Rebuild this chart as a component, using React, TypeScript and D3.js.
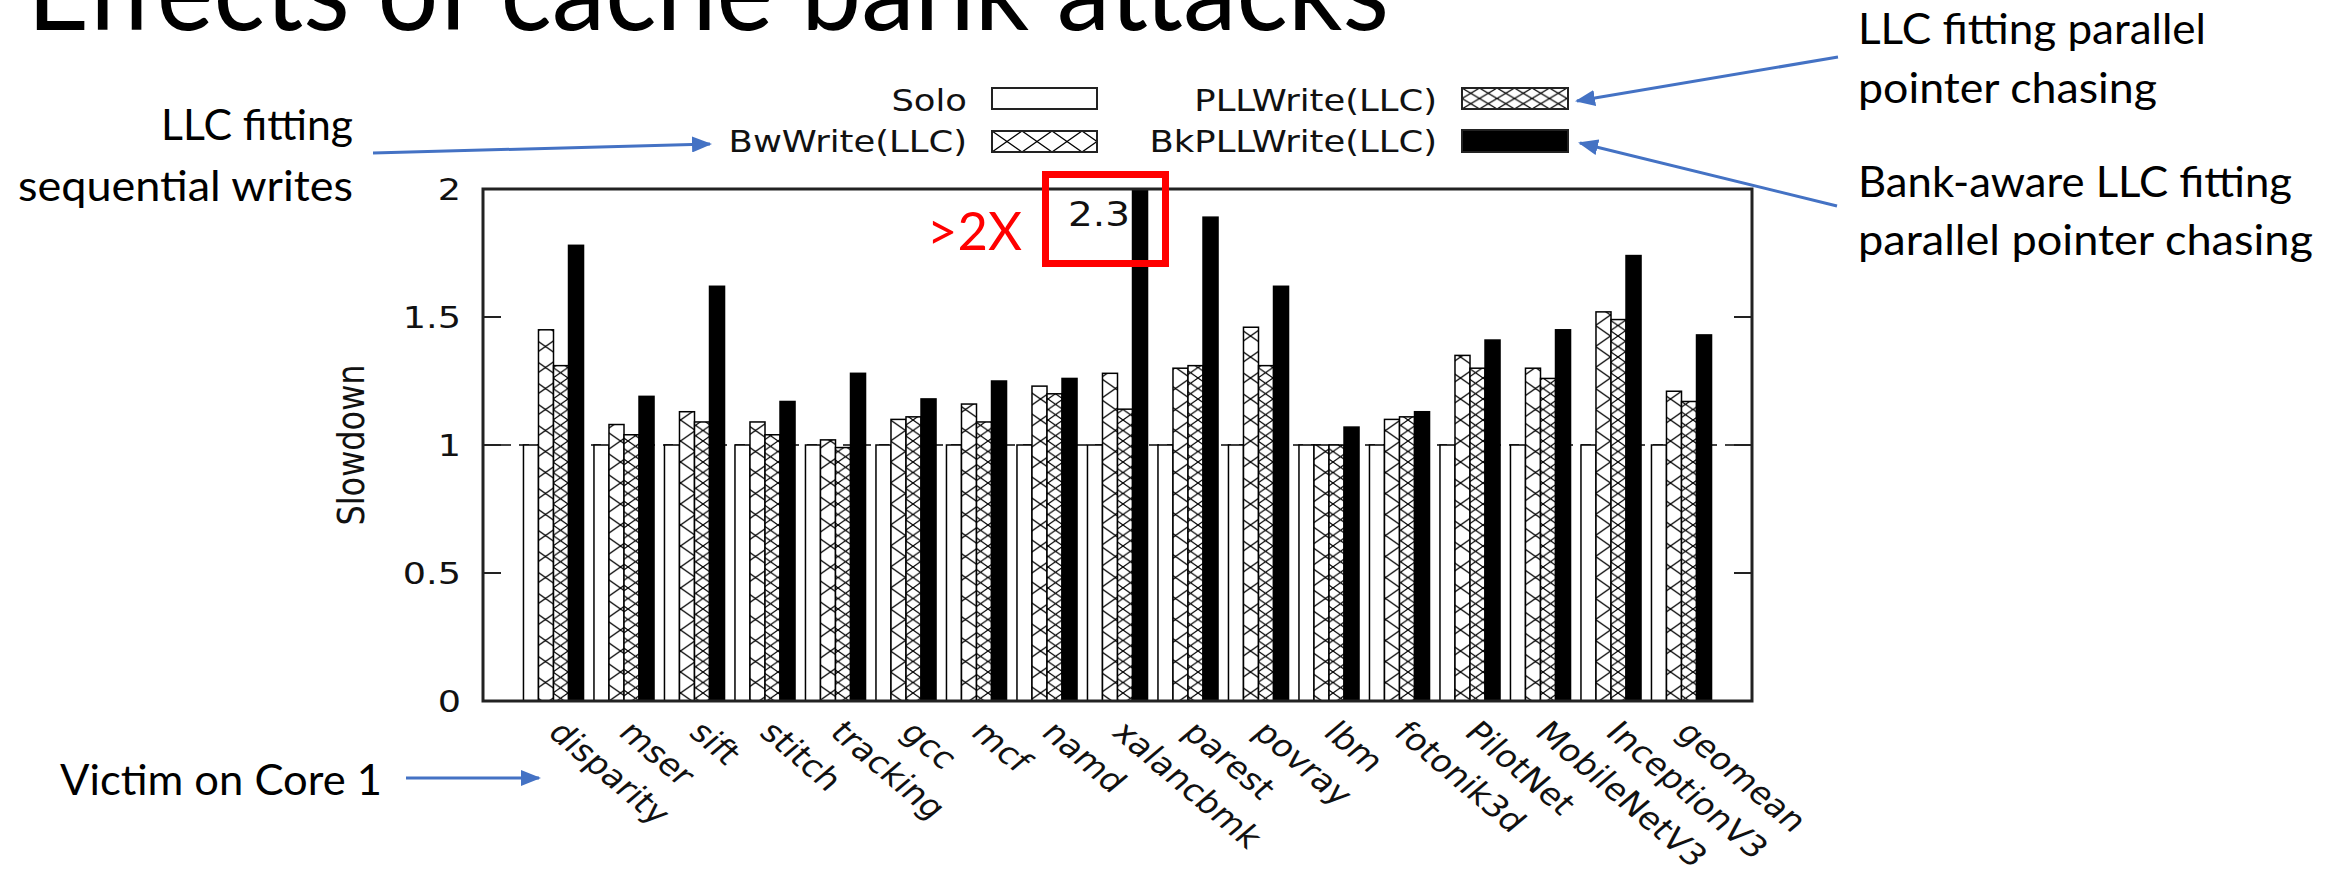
import React from "react";
import * as d3 from "d3";

const categories = ["disparity","mser","sift","stitch","tracking","gcc","mcf","namd","xalancbmk","parest","povray","lbm","fotonik3d","PilotNet","MobileNetV3","InceptionV3","geomean"];
const solo = [1,1,1,1,1,1,1,1,1,1,1,1,1,1,1,1,1];
const bwWrite = [1.45,1.08,1.13,1.09,1.02,1.10,1.16,1.23,1.28,1.30,1.46,1.00,1.10,1.35,1.30,1.52,1.21];
const pllWrite = [1.31,1.04,1.09,1.04,0.99,1.11,1.09,1.20,1.14,1.31,1.31,1.00,1.11,1.30,1.26,1.49,1.17];
const bkPllWrite = [1.78,1.19,1.62,1.17,1.28,1.18,1.25,1.26,2.3,1.89,1.62,1.07,1.13,1.41,1.45,1.74,1.43];
const seriesNames = ["Solo","BwWrite(LLC)","PLLWrite(LLC)","BkPLLWrite(LLC)"];
const yTicks = [0,0.5,1,1.5,2];
const yTickLabels = ["0","0.5","1","1.5","2"];

const W = 2336, H = 870;
const X0 = 483, X1 = 1752, Y0 = 701, Y1 = 189;
const SX = 1.18;
const chartFont = "'DejaVu Sans', Verdana, sans-serif";
const slideFont = "Lato, 'Open Sans', sans-serif";
const blue = "#4472C4";

export default function App() {
  const x = d3.scaleLinear().domain([-1, 17]).range([X0, X1]);
  const y = d3.scaleLinear().domain([0, 2]).range([Y0, Y1]);
  const barW = x(0.213) - x(0);
  const series = [solo, bwWrite, pllWrite, bkPllWrite];
  const fills = ["#fff", "url(#pBw)", "url(#pPll)", "#000"];
  const legendFills = ["#fff", "url(#lBw)", "url(#lPll)", "#000"];

  const arrows = [
    [373, 153, 710, 144],
    [1838, 57, 1577, 101],
    [1837, 206, 1580, 143],
    [406, 778, 539, 778],
  ];

  const legend = [
    { tx: 967, ty: 111, rx: 992, ry: 88, w: 105, h: 21 },
    { tx: 967, ty: 152, rx: 992, ry: 131, w: 105, h: 21 },
    { tx: 1437, ty: 111, rx: 1462, ry: 88, w: 106, h: 21 },
    { tx: 1437, ty: 152, rx: 1462, ry: 130, w: 106, h: 22 },
  ];

  return (
    <svg width={W} height={H} style={{ position: "absolute", left: 0, top: 0, background: "#fff" }}>
      <defs>
        <pattern id="pBw" patternUnits="userSpaceOnUse" x={530.5} y={0} width={30} height={21}>
          <rect width={30} height={21} fill="#fff" />
          <path d="M0,0 L30,21 M30,0 L0,21" stroke="#000" strokeWidth={1.3} fill="none" />
        </pattern>
        <pattern id="pPll" patternUnits="userSpaceOnUse" x={553} y={0} width={15} height={10.5}>
          <rect width={15} height={10.5} fill="#fff" />
          <path d="M0,0 L15,10.5 M15,0 L0,10.5" stroke="#000" strokeWidth={1.2} fill="none" />
        </pattern>
        <pattern id="lBw" patternUnits="userSpaceOnUse" x={992} y={131} width={30} height={21}>
          <rect width={30} height={21} fill="#fff" />
          <path d="M0,0 L30,21 M30,0 L0,21" stroke="#000" strokeWidth={1.3} fill="none" />
        </pattern>
        <pattern id="lPll" patternUnits="userSpaceOnUse" x={1462} y={88} width={17.5} height={10.5}>
          <rect width={17.5} height={10.5} fill="#fff" />
          <path d="M0,0 L17.5,10.5 M17.5,0 L0,10.5" stroke="#000" strokeWidth={1.2} fill="none" />
        </pattern>
        <marker id="ah" markerUnits="userSpaceOnUse" markerWidth={20} markerHeight={16} refX={18} refY={8} orient="auto">
          <path d="M0,0 L20,8 L0,16 Z" fill={blue} />
        </marker>
      </defs>

      {/* Title (cropped at top) */}
      <text x={27} y={30} fontFamily={slideFont} fontSize={112} textLength={1362} lengthAdjust="spacingAndGlyphs" fill="#000">
        Effects of cache bank attacks
      </text>

      {/* dashed reference line at 1 */}
      <line x1={X0} x2={X1} y1={y(1)} y2={y(1)} stroke="#444" strokeWidth={2} strokeDasharray="10,8" />

      {/* bars */}
      {categories.map((c, i) => (
        <g key={c}>
          {series.map((s, k) => {
            const v = Math.min(s[i], 2);
            const bx = x(i) - 2 * barW + k * barW;
            return (
              <rect key={k} x={bx} y={y(v)} width={barW} height={y(0) - y(v)}
                fill={fills[k]} stroke="#000" strokeWidth={1.5} />
            );
          })}
        </g>
      ))}

      {/* frame */}
      <rect x={X0} y={Y1} width={X1 - X0} height={Y0 - Y1} fill="none" stroke="#222" strokeWidth={3} />

      {/* y ticks */}
      {yTicks.map((t, i) => (
        <g key={t}>
          {t > 0 && t < 2 && (
            <>
              <line x1={X0} x2={X0 + 18} y1={y(t)} y2={y(t)} stroke="#222" strokeWidth={2} />
              <line x1={X1 - 18} x2={X1} y1={y(t)} y2={y(t)} stroke="#222" strokeWidth={2} />
            </>
          )}
          <g transform={`translate(${461},${y(t) + 11}) scale(${SX},1)`}>
            <text textAnchor="end" fontFamily={chartFont} fontSize={31} fill="#111">{yTickLabels[i]}</text>
          </g>
        </g>
      ))}

      {/* y label */}
      <g transform={`translate(364,445) scale(${SX},1) rotate(-90)`}>
        <text textAnchor="middle" fontFamily={chartFont} fontSize={32} fill="#111">Slowdown</text>
      </g>

      {/* x labels */}
      {categories.map((c, i) => (
        <g key={c} transform={`translate(${x(i) - 7},${734}) scale(${SX},1) rotate(45)`}>
          <text textAnchor="start" fontFamily={chartFont} fontSize={30} fill="#111">{c}</text>
        </g>
      ))}

      {/* legend */}
      {legend.map((l, k) => (
        <g key={k}>
          <g transform={`translate(${l.tx},${l.ty}) scale(${SX},1)`}>
            <text textAnchor="end" fontFamily={chartFont} fontSize={30} fill="#111">{seriesNames[k]}</text>
          </g>
          <rect x={l.rx} y={l.ry} width={l.w} height={l.h} fill={legendFills[k]} stroke="#222" strokeWidth={2} />
        </g>
      ))}

      {/* 2.3 label and red box */}
      <g transform={`translate(1068,226) scale(${SX},1)`}>
        <text fontFamily={chartFont} fontSize={33} fill="#111">2.3</text>
      </g>
      <rect x={1045.5} y={174.5} width={120} height={89} fill="none" stroke="#FF0000" strokeWidth={7} />
      <text x={927} y={250} fontFamily={slideFont} fontSize={53} textLength={95} lengthAdjust="spacingAndGlyphs" fill="#FF0000">&gt;2X</text>

      {/* annotations */}
      <text x={353} y={140} textAnchor="end" fontFamily={slideFont} fontSize={42} textLength={192} lengthAdjust="spacingAndGlyphs">LLC fitting</text>
      <text x={353} y={201} textAnchor="end" fontFamily={slideFont} fontSize={42} textLength={335} lengthAdjust="spacingAndGlyphs">sequential writes</text>
      <text x={1858} y={44} fontFamily={slideFont} fontSize={42} textLength={348} lengthAdjust="spacingAndGlyphs">LLC fitting parallel</text>
      <text x={1858} y={103} fontFamily={slideFont} fontSize={42} textLength={299} lengthAdjust="spacingAndGlyphs">pointer chasing</text>
      <text x={1858} y={197} fontFamily={slideFont} fontSize={42} textLength={434} lengthAdjust="spacingAndGlyphs">Bank-aware LLC fitting</text>
      <text x={1858} y={255} fontFamily={slideFont} fontSize={42} textLength={455} lengthAdjust="spacingAndGlyphs">parallel pointer chasing</text>
      <text x={60} y={795} fontFamily={slideFont} fontSize={42} textLength={322} lengthAdjust="spacingAndGlyphs">Victim on Core 1</text>

      {/* arrows */}
      {arrows.map((a, i) => (
        <line key={i} x1={a[0]} y1={a[1]} x2={a[2]} y2={a[3]} stroke={blue} strokeWidth={3} markerEnd="url(#ah)" />
      ))}
    </svg>
  );
}
